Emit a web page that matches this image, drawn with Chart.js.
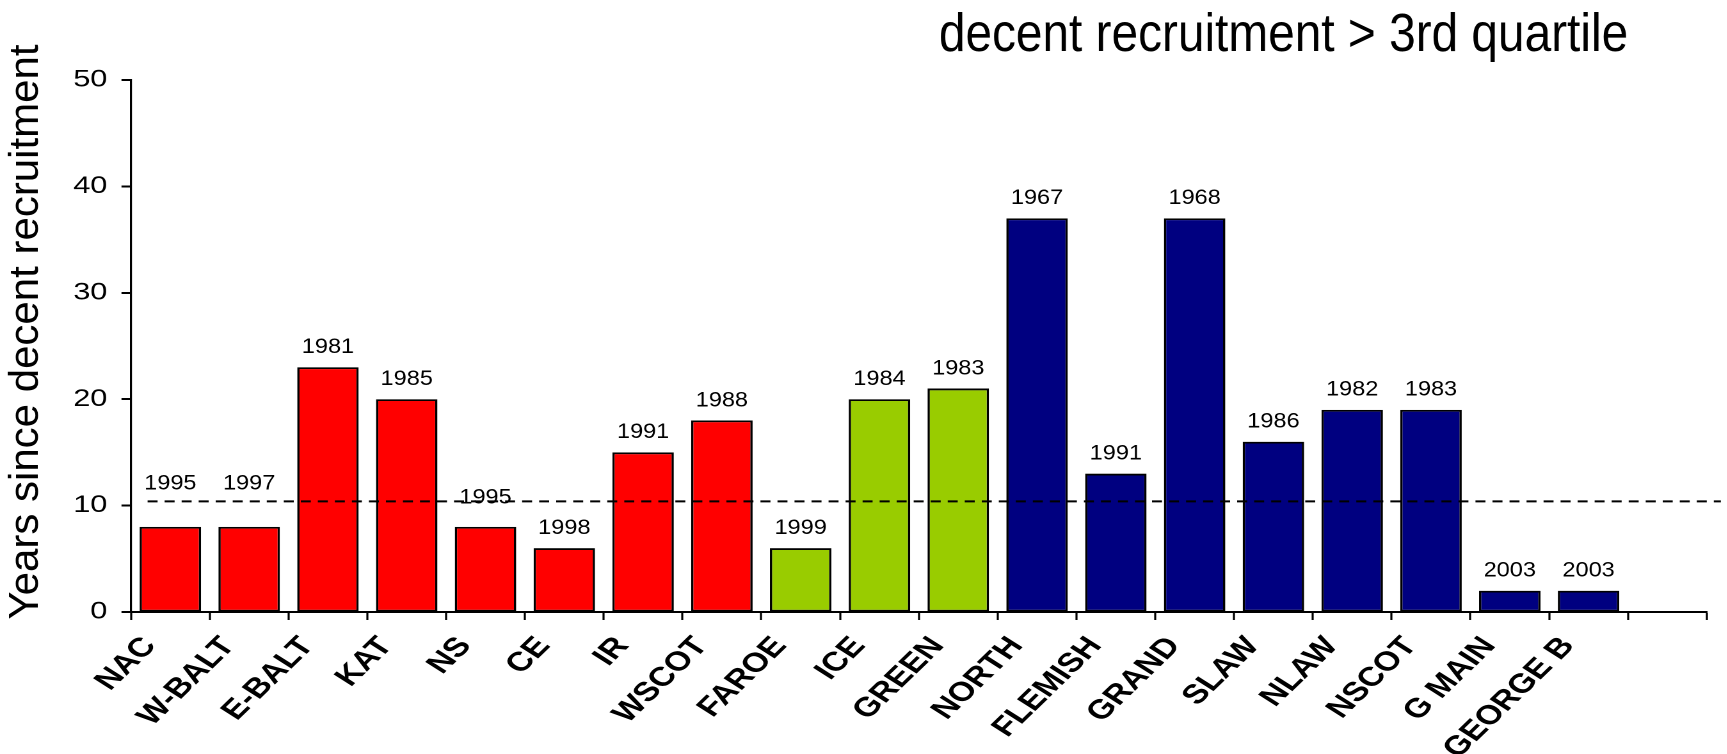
<!DOCTYPE html>
<html>
<head>
<meta charset="utf-8">
<script src="https://cdn.jsdelivr.net/npm/chart.js@4.4.1/dist/chart.umd.min.js"></script>
<style>
  html, body { margin: 0; padding: 0; background: #fff; overflow: hidden; }
  /* the original sheet chart was pasted stretched sideways, so draw narrow and widen */
  #wrap { width: 1349px; height: 754px; transform: scaleX(1.28); transform-origin: 0 0; }
</style>
</head>
<body>
<div id="wrap"><canvas id="chart"></canvas></div>
<script>
// stocks, with an empty slot at the end like the original sheet
const stocks = ['NAC', 'W-BALT', 'E-BALT', 'KAT', 'NS', 'CE', 'IR', 'WSCOT', 'FAROE', 'ICE',
  'GREEN', 'NORTH', 'FLEMISH', 'GRAND', 'SLAW', 'NLAW', 'NSCOT', 'G MAIN', 'GEORGE B', '']
const yearsSince = [8, 8, 23, 20, 8, 6, 15, 18, 6, 20, 21, 37, 13, 37, 16, 19, 19, 2, 2, null]
const lastDecentYear = ['1995', '1997', '1981', '1985', '1995', '1998', '1991', '1988', '1999', '1984',
  '1983', '1967', '1991', '1968', '1986', '1982', '1983', '2003', '2003', '']
const stockGroup = ['ne', 'ne', 'ne', 'ne', 'ne', 'ne', 'ne', 'ne', 'nord', 'nord',
  'nord', 'nw', 'nw', 'nw', 'nw', 'nw', 'nw', 'nw', 'nw', '']
const yTicks = [0, 10, 20, 30, 40, 50]
const quartileLine = 10.4

const STRETCH = 1.28
const groupColor = { ne: '#FF0000', nord: '#99CC00', nw: '#000080', '': '#ffffff' }
const FONT = '"Liberation Sans", Arial, Helvetica, sans-serif'

const whiteBg = {
  id: 'whiteBg',
  beforeDraw (chart) {
    const ctx = chart.ctx
    ctx.save()
    ctx.fillStyle = '#fff'
    ctx.fillRect(0, 0, chart.width, chart.height)
    ctx.restore()
  }
}

const dashedLine = {
  id: 'dashedLine',
  afterDatasetsDraw (chart) {
    const { ctx, chartArea } = chart
    const y = chart.scales.y.getPixelForValue(quartileLine)
    ctx.save()
    ctx.strokeStyle = '#000'
    ctx.lineWidth = 2
    ctx.setLineDash([7.8, 5.5])
    ctx.beginPath()
    ctx.moveTo(chartArea.left + 13, y)
    ctx.lineTo(chartArea.right + 11, y)
    ctx.stroke()
    ctx.restore()
  }
}

// year of the last decent year class, typed above each bar
const yearLabels = {
  id: 'yearLabels',
  afterDatasetsDraw (chart, args, opts) {
    const ctx = chart.ctx
    const bars = chart.getDatasetMeta(0).data
    ctx.save()
    ctx.font = `21px ${FONT}`
    ctx.fillStyle = '#000'
    ctx.textAlign = 'center'
    ctx.textBaseline = 'middle'
    bars.forEach((bar, i) => {
      if (!lastDecentYear[i]) return
      const lift = opts.lift[i] || 0
      ctx.save()
      ctx.translate(bar.x, bar.y - 20 - lift)
      ctx.scale(1.12 / STRETCH, 1)
      ctx.fillText(lastDecentYear[i], 0, 0)
      ctx.restore()
    })
    ctx.restore()
  }
}

// text boxes that were not stretched with the chart
const freeTexts = {
  id: 'freeTexts',
  afterDraw (chart) {
    const { ctx, chartArea } = chart
    ctx.save()
    ctx.fillStyle = '#000'

    ctx.save()
    ctx.font = `54px ${FONT}`
    ctx.textAlign = 'right'
    ctx.textBaseline = 'alphabetic'
    ctx.translate(chart.width - 77, 51)
    ctx.scale(0.885 / STRETCH, 1)
    ctx.fillText('decent recruitment > 3rd quartile', 0, 0)
    ctx.restore()

    ctx.save()
    ctx.font = `42px ${FONT}`
    ctx.textAlign = 'center'
    ctx.textBaseline = 'middle'
    ctx.translate(26.5 / STRETCH, (chartArea.top + chartArea.bottom) / 2 - 14)
    ctx.scale(1 / STRETCH, 1)
    ctx.rotate(-Math.PI / 2)
    ctx.fillText('Years since decent recruitment', 0, 0)
    ctx.restore()

    ctx.restore()
  }
}

new Chart(document.getElementById('chart'), {
  type: 'bar',
  data: {
    labels: stocks,
    datasets: [{
      data: yearsSince,
      backgroundColor: stockGroup.map(g => groupColor[g]),
      borderColor: '#000',
      borderWidth: 1.8,
      borderSkipped: false,
      categoryPercentage: 1,
      barPercentage: 0.78
    }]
  },
  options: {
    responsive: true,
    maintainAspectRatio: false,
    animation: false,
    devicePixelRatio: 2,
    layout: { padding: { top: 80, right: 15.6, left: 0, bottom: 0 } },
    plugins: {
      legend: { display: false },
      tooltip: { enabled: false },
      yearLabels: { lift: { 0: 23, 1: 23, 4: 9 } }
    },
    scales: {
      x: {
        afterFit (scale) { scale.height = 142 },
        border: { color: '#000', width: 2 },
        grid: {
          offset: true,
          drawOnChartArea: false,
          drawTicks: true,
          tickLength: 8,
          tickWidth: 1.6,
          tickColor: '#000'
        },
        ticks: {
          autoSkip: false,
          maxRotation: 51,
          minRotation: 51,
          padding: 11,
          labelOffset: -16,
          color: '#000',
          font: { family: FONT, size: 27, weight: 'bold' }
        }
      },
      y: {
        min: 0,
        max: 50,
        afterFit (scale) { scale.width = 102.3 },
        afterBuildTicks (scale) { scale.ticks = yTicks.map(v => ({ value: v })) },
        border: { color: '#000', width: 1.6 },
        grid: {
          drawOnChartArea: false,
          drawTicks: true,
          tickLength: 7.4,
          tickWidth: 2,
          tickColor: '#000'
        },
        ticks: {
          padding: 11,
          color: '#000',
          font: { family: FONT, size: 24 }
        }
      }
    }
  },
  plugins: [whiteBg, dashedLine, yearLabels, freeTexts]
})
</script>
</body>
</html>
